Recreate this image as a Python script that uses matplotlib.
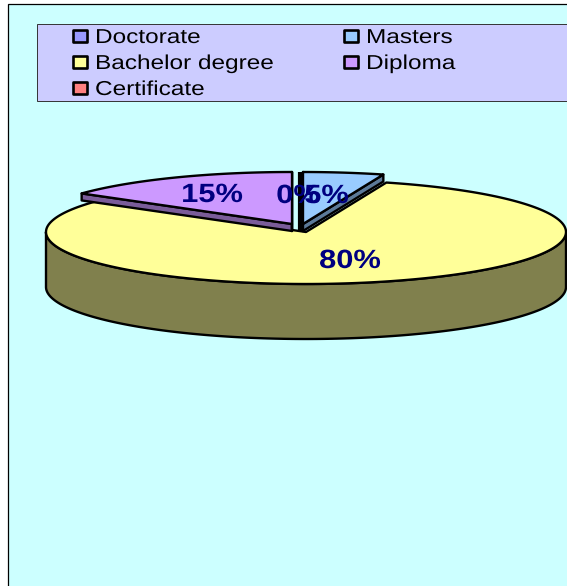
import numpy as np
import matplotlib
matplotlib.use('Agg')
import matplotlib.pyplot as plt
from matplotlib.patches import Polygon, Rectangle
from matplotlib.patheffects import AbstractPathEffect
from matplotlib.transforms import Affine2D

plt.rcParams['font.family'] = ['Liberation Sans', 'DejaVu Sans']

categories = ['Doctorate', 'Masters', 'Bachelor degree', 'Diploma', 'Certificate']
values = [0, 5, 80, 15, 0]
top_colors = ['#9999FF', '#99CCFF', '#FFFF99', '#CC99FF', '#FF8080']
side_colors = ['#5C5C99', '#5C7A99', '#80804D', '#7A5C99', '#804040']

# pixels of the reference, y goes down
W, H = 567, 586
A, B = 260, 52
fig = plt.figure(figsize=(W / 100, H / 100), dpi=100, facecolor='white')
ax = fig.add_axes([0, 0, 1, 1])
ax.set_xlim(0, W)
ax.set_ylim(H, 0)
ax.axis('off')


# the reference text is wider than any installed font, so widen it
class Stretch(AbstractPathEffect):
    def __init__(self, x0, sx):
        super().__init__()
        self.x0 = x0
        self.sx = sx

    def draw_path(self, renderer, gc, tpath, affine, rgbFace=None):
        t = Affine2D().translate(-self.x0, 0).scale(self.sx, 1).translate(self.x0, 0)
        renderer.draw_path(gc, tpath, affine + t, rgbFace)


ax.add_patch(Rectangle((7.5, 3.5), W, H, fc='#CCFFFF', ec='black', lw=0.9))
ax.add_patch(Rectangle((36.5, 23.5), W, 77.5, fc='#CCCCFF', ec='#333333', lw=0.7))


def rim(a0, a1):
    t = np.radians(np.linspace(a0, a1, 200))
    return A * np.sin(t), -B * np.cos(t)


def draw_slice(cx, cy, a0, a1, depth, top, side):
    x, y = rim(a0, a1)
    x, y = x + cx, y + cy
    # outer wall, only the part that faces the viewer
    lo, hi = max(a0, 90), min(a1, 270)
    if hi > lo:
        wx, wy = rim(lo, hi)
        wx, wy = wx + cx, wy + cy
        ax.add_patch(Polygon(np.r_[np.c_[wx, wy], np.c_[wx, wy + depth][::-1]],
                             fc=side, ec='black', lw=1.7, joinstyle='round'))
    # cut faces for the pulled out slices
    if depth < 20:
        for px, py in ((x[0], y[0]), (x[-1], y[-1])):
            ax.add_patch(Polygon([(cx, cy), (px, py), (px, py + depth), (cx, cy + depth)],
                                 fc=side, ec='black', lw=1.7, joinstyle='round'))
    ax.add_patch(Polygon(np.r_[[(cx, cy)], np.c_[x, y]], fc=top, ec='black', lw=1.7,
                         joinstyle='round'))


edges = np.r_[0, np.cumsum(values)] * 3.6
centers = [(300, 224), (303, 224), (306, 232), (292, 224), (297, 224)]
depths = [7, 7, 55, 7, 7]
for i in [2, 3, 1, 0]:
    if values[i] > 0:
        draw_slice(*centers[i], edges[i], edges[i + 1], depths[i], top_colors[i], side_colors[i])
    else:
        # empty slice is only its edge line
        cx, cy = centers[i]
        ax.plot([cx, cx], [cy - B, cy + depths[i]], color='black', lw=3, solid_capstyle='butt')

label_pos = [(298.5, 196), (326.5, 196), (350, 261), (212, 195)]
for i in [0, 1, 2, 3]:
    lx, ly = label_pos[i]
    px = ax.transData.transform((lx, ly))[0]
    ax.text(lx, ly, '%d%%' % values[i], color='#000080', fontsize=19, fontweight='bold',
            ha='center', va='center', path_effects=[Stretch(px, 1.17)])

legend_pos = [(73, 36), (344, 36), (73, 62), (344, 62), (73, 88)]
for name, c, (lx, ly) in zip(categories, top_colors, legend_pos):
    ax.add_patch(Rectangle((lx, ly - 6), 14, 12, fc=c, ec='black', lw=1.9, joinstyle='round'))
    px = ax.transData.transform((lx + 22, ly))[0]
    ax.text(lx + 22, ly + 1.5, name, color='black', fontsize=14.5, ha='left', va='center',
            path_effects=[Stretch(px, 1.21)])

fig.savefig('out.png', dpi=100)
